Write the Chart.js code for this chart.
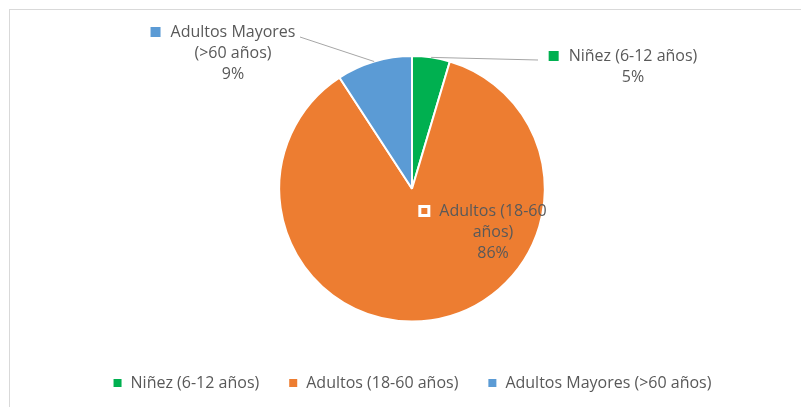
<!DOCTYPE html>
<html>
<head>
<meta charset="utf-8">
<script src="https://cdn.jsdelivr.net/npm/chart.js@4.4.1/dist/chart.umd.min.js"></script>
<style>
  html, body { margin: 0; padding: 0; background: #fff; }
  #wrap { position: relative; width: 801px; height: 407px; }
  #frame { position: absolute; left: 9px; top: 9px; right: -2px; bottom: -2px; border: 1px solid #d9d9d9; }
  canvas { position: absolute; left: 0; top: 0; }
</style>
</head>
<body>
<div id="wrap">
  <div id="frame"></div>
  <canvas id="pieChart" width="801" height="407"></canvas>
</div>
<script>
/* Age group pie */

const categories = ['Niñez (6-12 años)', 'Adultos (18-60 años)', 'Adultos Mayores (>60 años)'];
const labelLines = [['Niñez (6-12 años)'], ['Adultos (18-60', 'años)'], ['Adultos Mayores', '(>60 años)']];
const shares = [4.6, 86.2, 9.2];
const colors = ['#00b050', '#ed7d31', '#5b9bd5'];

const textColor = '#595959';
const labelFont = '16px "Open Sans", "Liberation Sans", sans-serif';

// data labels with leader lines, placed like the source chart
const dataLabels = {
    id: 'dataLabels',
    afterDatasetsDraw(chart) {
        const ctx = chart.ctx;
        const arcs = chart.getDatasetMeta(0).data;
        const total = shares.reduce((a, b) => a + b, 0);
        const spots = [
            { x: 633, y: 56, line: { x: 538, y: 60 } },
            { x: 493, y: 211, inside: true },
            { x: 233, y: 32, line: { x: 300, y: 37 } }
        ];

        ctx.save();
        ctx.font = labelFont;
        ctx.textAlign = 'center';
        ctx.textBaseline = 'middle';

        arcs.forEach((arc, i) => {
            const spot = spots[i];
            const lines = labelLines[i].concat([Math.round(shares[i] / total * 100) + '%']);

            if (spot.line) {
                const mid = (arc.startAngle + arc.endAngle) / 2;
                ctx.beginPath();
                ctx.strokeStyle = '#a6a6a6';
                ctx.lineWidth = 1;
                ctx.moveTo(arc.x + Math.cos(mid) * arc.outerRadius, arc.y + Math.sin(mid) * arc.outerRadius);
                ctx.lineTo(spot.line.x, spot.line.y);
                ctx.stroke();
            }

            // legend key beside the first line
            const w0 = ctx.measureText(lines[0]).width;
            const kx = spot.x - w0 / 2 - 20;
            if (spot.inside) {
                ctx.fillStyle = '#fff';
                ctx.fillRect(kx - 1, spot.y - 6, 12, 12);
                ctx.fillStyle = colors[i];
                ctx.fillRect(kx + 2, spot.y - 3, 6, 6);
            } else {
                ctx.fillStyle = colors[i];
                ctx.fillRect(kx, spot.y - 5, 10, 10);
            }

            ctx.fillStyle = textColor;
            lines.forEach((t, k) => ctx.fillText(t, spot.x, spot.y + k * 21));
        });
        ctx.restore();
    }
};

new Chart(document.getElementById('pieChart'), {
    type: 'pie',
    data: {
        labels: categories,
        datasets: [{
            data: shares,
            backgroundColor: colors,
            borderColor: '#ffffff',
            borderWidth: 2
        }]
    },
    options: {
        responsive: false,
        animation: false,
        layout: { padding: { top: 55, left: 23, right: 0, bottom: 6 } },
        plugins: {
            tooltip: { enabled: false },
            legend: {
                position: 'bottom',
                title: { display: true, text: '', font: { size: 12 }, padding: { top: 9, bottom: 0 } },
                labels: {
                    color: textColor,
                    boxWidth: 10,
                    boxHeight: 10,
                    padding: 29,
                    font: { family: '"Open Sans", "Liberation Sans", sans-serif', size: 16 }
                }
            }
        }
    },
    plugins: [dataLabels]
});
</script>
</body>
</html>
